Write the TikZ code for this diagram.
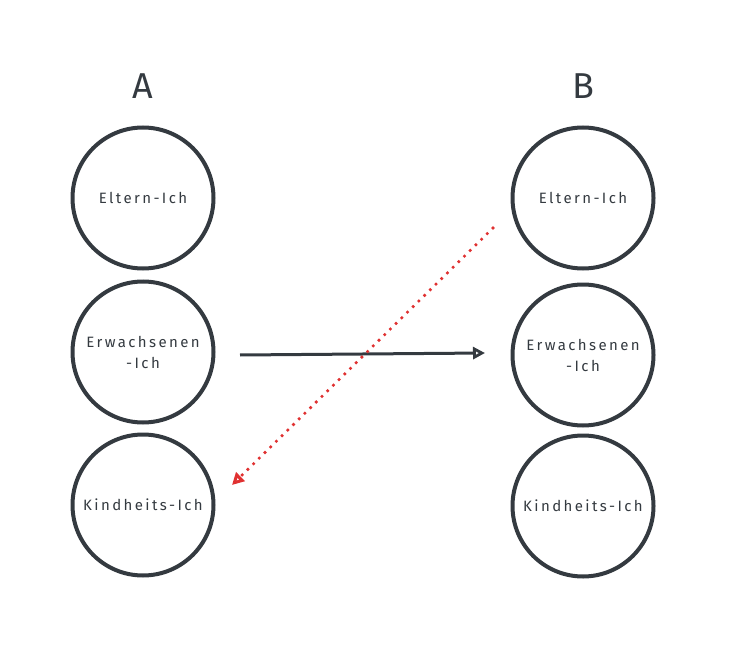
\documentclass[tikz,border=0pt]{standalone}
\usepackage{fontspec}
\setmainfont{Fira Sans}
\newfontfamily\egofont[LetterSpace=16]{Fira Sans}
\usetikzlibrary{arrows.meta}
\definecolor{ink}{HTML}{343A40}
\definecolor{redink}{HTML}{E03131}
\begin{document}
\begin{tikzpicture}[x=1pt,y=-1pt,
  ego/.style={circle,draw=ink,line width=4pt,minimum size=141pt,inner sep=0pt,
    text=ink,font=\egofont\fontsize{15}{21}\selectfont,align=center},
  head/.style={text=ink,font=\fontsize{36}{38}\selectfont},
  conn/.style={draw=ink,line width=3pt,-{Triangle[open,length=12pt,width=12pt,line width=2.8pt]}},
  hint/.style={draw=redink,line width=3.6pt,dash pattern=on 0pt off 8pt,line cap=round,
    -{Triangle[open,length=12pt,width=12pt,line width=3pt,line cap=butt]}}]
\useasboundingbox (0,0) rectangle (730,660);
\node[head] (A) at (143,86) {A};
\node[head] (B) at (583,86) {B};
\node[ego] (a1) at (143,198) {Eltern-Ich};
\node[ego] (a2) at (143,352) {Erwachsenen\\-Ich};
\node[ego] (a3) at (143,505) {Kindheits-Ich};
\node[ego] (b1) at (583,198) {Eltern-Ich};
\node[ego] (b2) at (583,355) {Erwachsenen\\-Ich};
\node[ego] (b3) at (583,506) {Kindheits-Ich};
\coordinate (s1) at (240,355);
\coordinate (e1) at (485,353);
\coordinate (s2) at (493,228);
\coordinate (e2) at (232,485);
\draw[conn] (s1) -- (e1);
\draw[hint] (s2) -- (e2);
\end{tikzpicture}
\end{document}
